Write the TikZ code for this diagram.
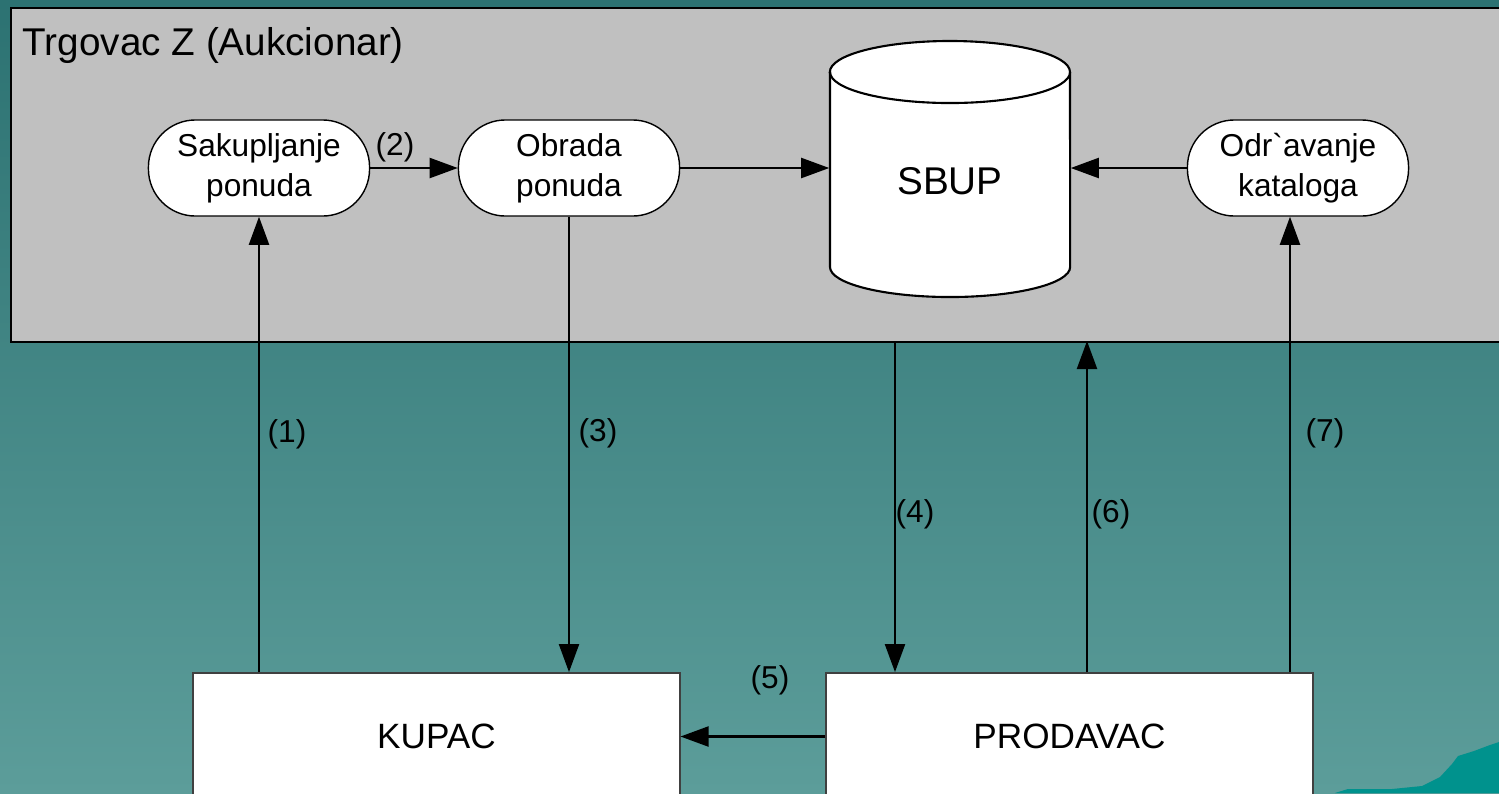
\documentclass[tikz,border=0pt]{standalone}
\usepackage{fontspec}
\setmainfont{Liberation Sans}
\usetikzlibrary{positioning,arrows.meta}

\definecolor{seatop}{RGB}{44,114,114}
\definecolor{seabot}{RGB}{92,157,154}
\definecolor{seawave}{RGB}{0,146,141}
\definecolor{panelgray}{RGB}{192,192,192}

\begin{document}
\begin{tikzpicture}[
    x=0.01cm, y=-0.01cm,
    panel/.style={draw=black, line width=0.6pt, fill=panelgray, anchor=north west, minimum width=15.3cm, minimum height=3.34cm, inner sep=0pt},
    proc/.style={draw=black, line width=0.4pt, fill=white, rounded corners=0.47cm, minimum width=2.21cm, minimum height=0.96cm, align=center, font=\fontsize{9}{11.4}\selectfont},
    db/.style={minimum width=2.4cm, minimum height=2.57cm, text height=15pt, text depth=0pt, font=\fontsize{11}{13}\selectfont},
    party/.style={draw=black!75, line width=0.5pt, fill=white, minimum width=4.86cm, minimum height=1.27cm, font=\fontsize{10}{12}\selectfont},
    flow/.style={line width=0.6pt, -{Triangle[length=0.28cm, width=0.2cm]}},
    flowlabel/.style={font=\fontsize{9}{11}\selectfont, inner sep=0pt}
]
\useasboundingbox (0,0) rectangle (1499,793);
\clip (0,0) rectangle (1499,793);

% backdrop
\fill[top color=seatop, bottom color=seabot] (0,0) rectangle (1499,793);
\fill[seawave] (1335,793) -- (1348,789) -- (1392,789) -- (1422,786) -- (1440,777)
    -- (1452,764) -- (1458,756) -- (1474,751) -- (1490,745) -- (1499,742) -- (1499,793) -- cycle;

% Trgovac Z
\node[panel] (trgovac) at (10,7) {};
\node[anchor=west, inner sep=0pt, font=\fontsize{11}{13}\selectfont] (naslov) at (22,45) {Trgovac Z (Aukcionar)};

\node[proc] (sakupljanje) at (259,168) {Sakupljanje\\ponuda};
\node[proc] (obrada) at (569,168) {Obrada\\ponuda};
\node[proc] (odrzavanje) at (1298,168) {Odr\textasciigrave avanje\\kataloga};

% SBUP cylinder
\draw[line width=0.6pt, fill=white] (830,72) -- (830,267)
    arc[start angle=180, end angle=360, x radius=1.2cm, y radius=0.3cm]
    -- (1070,72) arc[start angle=0, end angle=180, x radius=1.2cm, y radius=0.31cm] -- cycle;
\draw[line width=0.6pt] (830,72) arc[start angle=180, end angle=360, x radius=1.2cm, y radius=0.31cm];
\node[db] (sbup) at (950,168.5) {SBUP};

% Kupac and Prodavac
\node[party] (kupac) at (436.5,736.5) {KUPAC};
\node[party] (prodavac) at (1069.5,736.5) {PRODAVAC};

\coordinate (izlaz) at (895,341);
\coordinate (ulaz) at (1087,341);
\path ([xshift=-0.08cm]odrzavanje.south) coordinate (katalog);

% flows
\draw[flow] (kupac.north -| sakupljanje.south) -- (sakupljanje.south);
\draw[flow] (sakupljanje.east) -- (obrada.west);
\draw[flow] (obrada.south) -- (obrada.south |- kupac.north);
\draw[flow] (obrada.east) -- (obrada.east -| sbup.west);
\draw[flow] (odrzavanje.west) -- (odrzavanje.west -| sbup.east);
\draw[flow] (izlaz) -- (izlaz |- prodavac.north);
\draw[flow] (prodavac.west) -- (kupac.east);
\draw[flow] (ulaz |- prodavac.north) -- (ulaz);
\draw[flow] (katalog |- prodavac.north) -- (katalog);

% flow numbers
\node[flowlabel] (l1) at (287,434) {(1)};
\node[flowlabel] (l2) at (395,147) {(2)};
\node[flowlabel] (l3) at (598,433) {(3)};
\node[flowlabel] (l4) at (915,514) {(4)};
\node[flowlabel] (l5) at (770,680) {(5)};
\node[flowlabel] (l6) at (1111,514) {(6)};
\node[flowlabel] (l7) at (1325,433) {(7)};

\end{tikzpicture}
\end{document}
